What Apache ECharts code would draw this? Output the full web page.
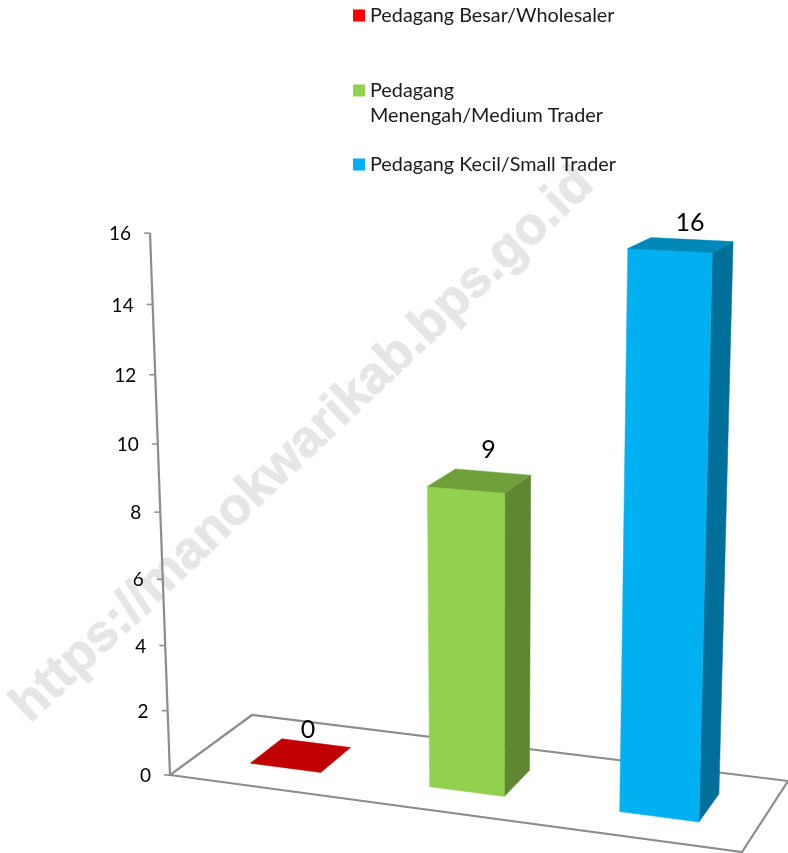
<!DOCTYPE html>
<html>
<head>
<meta charset="utf-8">
<style>
  html, body { margin: 0; padding: 0; background: #fff; }
  #chart { width: 788px; height: 853px; }
</style>
<script src="https://cdn.jsdelivr.net/npm/echarts@6/dist/echarts.min.js"></script>
</head>
<body>
<div id="chart"></div>
<script>
const categories = ["Pedagang Besar/Wholesaler", "Pedagang Menengah/Medium Trader", "Pedagang Kecil/Small Trader"];
const values = [0, 9, 16];
const yTicks = [0, 2, 4, 6, 8, 10, 12, 14, 16];

// styling per bar
const legendColors = ["#FF0000", "#92D050", "#00B0F0"];
const frontColors = ["#C00000", "#92D050", "#00B0F0"];
const topColors = ["#C00000", "#70A03C", "#0088B9"];
const sideColors = ["#C00000", "#5F8731", "#006F9A"];
const legendTops = [3, 53, 152];
const labelOffsets = [[7, -25], [9, -31], [9, -22]];

const W = 788;
const H = 853;
const FONT = "Lato, 'Liberation Sans', sans-serif";
const AXIS_COLOR = "#8C8C8C";

// camera: floor homography (unit square -> screen) + vanishing point of the verticals
const cam = {
  a: 508.44, b: 100.78, c: 170,
  d: 4.02, e: -6.72, f: 775,
  g: -0.08566, h: 0.07452,
  vx: 494, vy: 9560, k: -0.0581,
};
function project(u, w, v) {
  const s = v * (1 - 0.006 * u); // picture foreshortens a bit more towards the right
  const den = cam.g * u + cam.h * w + 1 + s * cam.k;
  return [
    (cam.a * u + cam.b * w + cam.c + s * cam.k * cam.vx) / den,
    (cam.d * u + cam.e * w + cam.f + s * cam.k * cam.vy) / den,
  ];
}

const BAR_SHARE = 0.4; // bar width as share of the category band
const DEPTH = [0.3, 0.7];

function renderBar(idx) {
  return (params, api) => {
    const p = api.coord([api.value(0), api.value(1)]);
    const band = api.size([1, 0])[0] / W;
    const uc = p[0] / W + 0.005;
    const v = (H - p[1]) / H;
    const u0 = uc - (band * BAR_SHARE) / 2;
    const u1 = uc + (band * BAR_SHARE) / 2;
    const [w0, w1] = DEPTH;
    const poly = (pts, fill) => ({
      type: "polygon",
      shape: { points: pts },
      style: { fill, stroke: fill, lineWidth: 0.5 },
    });
    const children = [];
    if (v > 0) {
      children.push(
        poly([project(u1, w0, 0), project(u1, w1, 0), project(u1, w1, v), project(u1, w0, v)], sideColors[idx]),
        poly([project(u0, w0, 0), project(u1, w0, 0), project(u1, w0, v), project(u0, w0, v)], frontColors[idx])
      );
    }
    children.push(poly([project(u0, w0, v), project(u1, w0, v), project(u1, w1, v), project(u0, w1, v)], topColors[idx]));
    const top = project(uc, (w0 + w1) / 2, v);
    children.push({
      type: "text",
      style: {
        text: String(api.value(1)),
        x: top[0] + labelOffsets[idx][0],
        y: top[1] + labelOffsets[idx][1],
        align: "center",
        verticalAlign: "middle",
        fill: "#000",
        fontFamily: FONT,
        fontSize: 25,
      },
    });
    return { type: "group", children };
  };
}

function renderFloor() {
  return {
    type: "polygon",
    shape: { points: [project(0, 0, 0), project(1, 0, 0), project(1, 1, 0), project(0, 1, 0)] },
    style: { fill: "none", stroke: AXIS_COLOR, lineWidth: 2.2 },
  };
}

function renderTick(params, api) {
  const p = api.coord([0, api.value(0)]);
  const v = (H - p[1]) / H;
  const base = project(0, 0, v);
  const children = [
    {
      type: "line",
      shape: { x1: base[0] - 6, y1: base[1], x2: base[0], y2: base[1] },
      style: { stroke: AXIS_COLOR, lineWidth: 1.5 },
    },
    {
      type: "text",
      style: {
        text: String(api.value(0)),
        x: base[0] - 19,
        y: base[1] + 1,
        align: "right",
        verticalAlign: "middle",
        fill: "#000",
        fontFamily: FONT,
        fontSize: 19,
      },
    },
  ];
  if (params.dataIndex > 0) {
    const prev = api.coord([0, yTicks[params.dataIndex - 1]]);
    const low = project(0, 0, (H - prev[1]) / H);
    children.push({
      type: "line",
      shape: { x1: low[0], y1: low[1], x2: base[0], y2: base[1] },
      style: { stroke: AXIS_COLOR, lineWidth: 2.2 },
    });
  }
  return { type: "group", children };
}

const chart = echarts.init(document.getElementById("chart"));
chart.setOption({
  animation: false,
  backgroundColor: "#fff",
  grid: { left: 0, right: 0, top: 0, bottom: 0 },
  xAxis: { type: "category", data: categories, show: false },
  yAxis: { type: "value", min: 0, max: 16, interval: 2, show: false },
  legend: categories.map((name, i) => ({
    data: [{ name, itemStyle: { color: legendColors[i] } }],
    left: 353,
    top: legendTops[i],
    padding: 0,
    itemWidth: 12,
    itemHeight: 12,
    itemGap: 0,
    icon: "rect",
    formatter: (n) => (i === 1 ? " \nPedagang\nMenengah/Medium Trader" : n),
    textStyle: { fontFamily: FONT, fontSize: 19.8, lineHeight: 25, color: "#1a1a1a" },
  })),
  graphic: [
    {
      type: "text",
      x: 303,
      y: 445,
      rotation: (43.5 * Math.PI) / 180,
      silent: true,
      z: -1,
      style: {
        text: "https://manokwarikab.bps.go.id",
        align: "center",
        verticalAlign: "middle",
        fill: "#E6E6E6",
        stroke: "#E6E6E6",
        lineWidth: 1,
        fontFamily: "'Liberation Sans', Arial, sans-serif",
        fontWeight: "bold",
        fontSize: 52,
      },
    },
  ],
  series: [
    {
      name: "floor",
      type: "custom",
      silent: true,
      clip: false,
      z: 1,
      data: [[0]],
      renderItem: renderFloor,
    },
    {
      name: "axis",
      type: "custom",
      silent: true,
      clip: false,
      z: 1,
      data: yTicks.map((t) => [t]),
      renderItem: renderTick,
    },
    ...categories.map((name, i) => ({
      name,
      type: "custom",
      clip: false,
      z: 2,
      itemStyle: { color: legendColors[i] },
      encode: { x: 0, y: 1 },
      data: [[i, values[i]]],
      renderItem: renderBar(i),
    })),
  ],
});
</script>
</body>
</html>
